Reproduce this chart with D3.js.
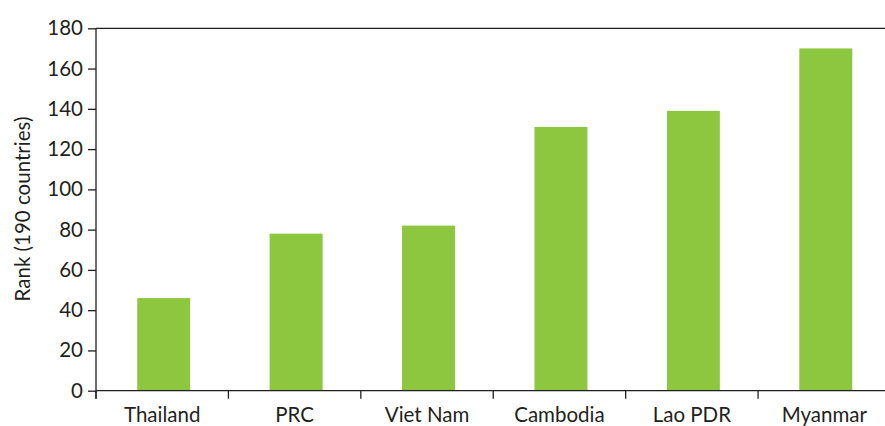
<!DOCTYPE html>
<html>
<head>
<meta charset="utf-8">
<script src="https://cdn.jsdelivr.net/npm/d3@7"></script>
<style>
  body { margin: 0; background: #fff; }
  text { font-family: Lato, "Open Sans", sans-serif; fill: #231f20; }
</style>
</head>
<body>
<div id="chart"></div>
<script>
// data
var countries = ["Thailand", "PRC", "Viet Nam", "Cambodia", "Lao PDR", "Myanmar"];
var ranks = [46, 78, 82, 131, 139, 170];
var yTicks = [0, 20, 40, 60, 80, 100, 120, 140, 160, 180];

var width = 885, height = 426;
var margin = {top: 28.3, left: 96, bottom: 35.3};
var plotRight = 890.5;
var fontSize = "20.5px";

var svg = d3.select("#chart")
  .append("svg")
    .attr("width", width)
    .attr("height", height);

var y = d3.scaleLinear()
  .domain([0, 180])
  .range([height - margin.bottom, margin.top]);

// band scale for category slots (ticks at boundaries)
var xSlot = d3.scaleBand()
  .domain(countries)
  .range([margin.left, plotRight])
  .padding(0);

var xBar = d3.scaleBand()
  .domain(countries)
  .range([margin.left + 1.5, plotRight + 1.5])
  .paddingInner(0.6)
  .paddingOuter(0.3);

// bars
svg.selectAll("rect.bar")
  .data(countries)
  .enter()
  .append("rect")
    .attr("class", "bar")
    .attr("x", function(d) { return xBar(d); })
    .attr("width", xBar.bandwidth())
    .attr("y", function(d, i) { return y(ranks[i]); })
    .attr("height", function(d, i) { return y(0) - y(ranks[i]); })
    .style("fill", "#8dc63f");

// Y axis
var yAxis = svg.append("g")
  .attr("transform", "translate(" + margin.left + ",0)")
  .call(d3.axisLeft(y).tickValues(yTicks).tickSize(8).tickPadding(5).tickSizeOuter(0));
yAxis.select(".domain").remove();
yAxis.selectAll("line").attr("stroke", "#231f20").attr("stroke-width", 1.3);
yAxis.selectAll("text").style("font-size", fontSize).style("font-family", "Lato, sans-serif");

// vertical axis line, extends below zero
svg.append("line")
  .attr("x1", margin.left).attr("x2", margin.left)
  .attr("y1", y(180)).attr("y2", y(0) + 8)
  .attr("stroke", "#231f20").attr("stroke-width", 1.3);

// top border
svg.append("line")
  .attr("x1", margin.left).attr("x2", plotRight)
  .attr("y1", y(180)).attr("y2", y(180))
  .attr("stroke", "#231f20").attr("stroke-width", 1.3);

// X axis baseline
svg.append("line")
  .attr("x1", margin.left).attr("x2", plotRight)
  .attr("y1", y(0)).attr("y2", y(0))
  .attr("stroke", "#231f20").attr("stroke-width", 1.3);

// boundary ticks
svg.selectAll("line.xtick")
  .data(countries)
  .enter()
  .append("line")
    .attr("class", "xtick")
    .attr("x1", function(d) { return xSlot(d); })
    .attr("x2", function(d) { return xSlot(d); })
    .attr("y1", y(0))
    .attr("y2", y(0) + 8)
    .attr("stroke", "#231f20").attr("stroke-width", 1.3);

// category labels
svg.selectAll("text.xlabel")
  .data(countries)
  .enter()
  .append("text")
    .attr("class", "xlabel")
    .attr("x", function(d) { return xSlot(d) + xSlot.bandwidth() / 2; })
    .attr("y", 421.5)
    .attr("text-anchor", "middle")
    .style("font-size", fontSize)
    .text(function(d) { return d; });

// y label
svg.append("text")
  .attr("transform", "translate(30," + 209 + ") rotate(-90)")
  .attr("text-anchor", "middle")
  .style("font-size", fontSize)
  .text("Rank (190 countries)");
</script>
</body>
</html>
